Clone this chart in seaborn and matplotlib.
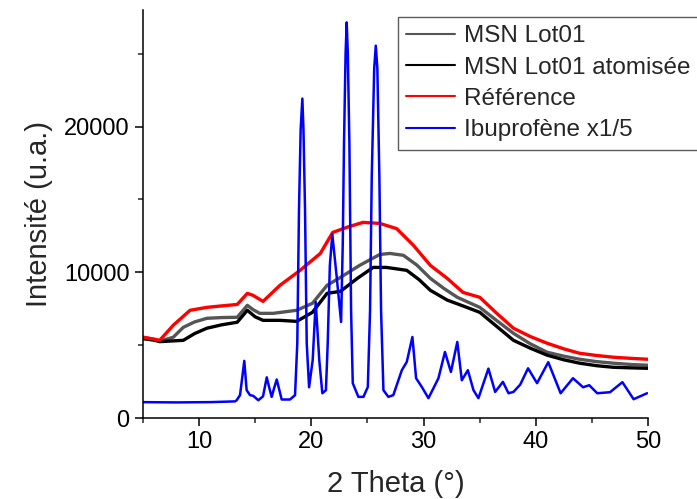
import pandas as pd
import matplotlib
matplotlib.use('Agg')
import matplotlib.pyplot as plt
import seaborn as sns
from matplotlib.ticker import MultipleLocator

# MSN Lot01 (gray)
x_lot = [5.0, 6.0, 6.5, 7.7, 8.6, 9.6, 10.7, 12.0, 13.4, 14.3, 14.8, 15.4, 16.6, 17.7,
         18.7, 20.1, 21.4, 22.6, 24.3, 26.1, 27.0, 28.2, 29.4, 30.6, 31.8, 33.0, 35.0,
         36.5, 38.0, 39.5, 41.0, 42.5, 43.9, 45.4, 46.9, 48.5, 50.0]
y_lot = [5550, 5400, 5280, 5550, 6230, 6600, 6850, 6900, 6920, 7740, 7450, 7190, 7190, 7300,
         7400, 7880, 9110, 9660, 10480, 11230, 11300, 11170, 10500, 9590, 8900, 8290, 7600,
         6700, 5820, 5100, 4520, 4250, 4040, 3880, 3770, 3680, 3630]

# MSN Lot01 atomisée (black)
x_ato = [5.0, 6.0, 6.5, 7.7, 8.6, 9.6, 10.7, 12.0, 13.4, 14.3, 15.0, 15.7, 17.2, 18.7,
         20.1, 21.4, 22.6, 24.1, 25.5, 26.7, 28.5, 29.6, 30.6, 32.1, 33.5, 35.0, 36.5,
         38.0, 39.5, 41.0, 42.5, 43.9, 45.4, 46.9, 48.5, 50.0]
y_ato = [5450, 5350, 5250, 5300, 5340, 5800, 6170, 6400, 6580, 7400, 6950, 6710, 6710, 6640,
         7260, 8560, 8700, 9590, 10340, 10340, 10140, 9500, 8770, 8100, 7700, 7260, 6300,
         5340, 4800, 4320, 4000, 3770, 3600, 3490, 3450, 3420]

# Référence (red)
x_ref = [5.0, 5.8, 6.5, 7.7, 9.2, 10.7, 12.0, 13.4, 14.3, 14.8, 15.7, 17.2, 19.0, 20.8,
         21.9, 23.2, 24.6, 26.1, 27.6, 29.1, 30.6, 32.1, 33.5, 35.0, 36.5, 38.0, 39.5,
         41.0, 42.5, 43.9, 45.4, 46.9, 48.5, 50.0]
y_ref = [5550, 5450, 5340, 6370, 7400, 7600, 7700, 7800, 8560, 8430, 8010, 9110, 10140, 11300,
         12740, 13100, 13430, 13360, 13000, 11850, 10480, 9590, 8630, 8290, 7200, 6170, 5600,
         5140, 4750, 4450, 4300, 4180, 4100, 4040]

# Ibuprofène x1/5 (blue)
x_ibu = [5.0, 8.0, 11.0, 13.2, 13.35, 13.65, 13.85, 14.03, 14.24, 14.54, 14.83, 15.28,
         15.7, 16.03, 16.25, 16.47, 16.7, 16.92, 17.36, 18.1, 18.55, 18.75, 18.9, 19.05,
         19.2, 19.3, 19.44, 19.59, 19.8, 20.12, 20.39, 20.71, 20.98, 21.3, 21.46, 21.65,
         21.87, 22.26, 22.65, 22.8, 22.91, 23.05, 23.15, 23.25, 23.39, 23.54, 23.69, 24.19,
         24.64, 25.03, 25.23, 25.38, 25.6, 25.74, 25.88, 26.06, 26.21, 26.42, 26.86, 27.3,
         28.06, 28.5, 29.0, 29.33, 29.84, 30.43, 31.32, 31.9, 32.43, 33.0, 33.4, 33.94,
         34.44, 34.88, 35.77, 36.37, 37.06, 37.56, 38.0, 38.6, 39.3, 40.1, 41.1, 42.2,
         43.3, 44.2, 44.75, 45.46, 46.6, 47.7, 48.7, 49.9]
y_ibu = [1100, 1080, 1100, 1150, 1230, 1580, 2800, 3930, 1920, 1580, 1530, 1230,
         1500, 2800, 2100, 1460, 2100, 2650, 1280, 1280, 1580, 5140, 14250, 19800,
         21920, 19800, 14250, 5140, 2120, 3970, 7970, 3970, 1710, 1920, 5140, 10500,
         12600, 9680, 6600, 12000, 18840, 25000, 27150, 25000, 18840, 7400, 2400, 1460,
         1460, 2140, 7400, 16530, 24000, 25550, 24000, 16530, 7400, 1920, 1460, 1580,
         3290, 3860, 5570, 2740, 2140, 1370, 2740, 4540, 3170, 5230, 2600, 3290,
         1920, 1370, 3400, 1800, 2490, 1710, 1800, 2300, 3420, 2400, 3840, 1710,
         2740, 2120, 2260, 1710, 1780, 2470, 1300, 1710]

labels = ['MSN Lot01', 'MSN Lot01 atomisée', 'Référence', 'Ibuprofène x1/5']
colors = ['#555555', '#000000', '#ff0000', '#0000ff']

frames = []
for lab, xs, ys in zip(labels, [x_lot, x_ato, x_ref, x_ibu], [y_lot, y_ato, y_ref, y_ibu]):
    frames.append(pd.DataFrame({'theta': xs, 'intensity': ys, 'sample': lab}))
df = pd.concat(frames, ignore_index=True)

sns.set_style('ticks')
plt.rcParams['font.family'] = ['Liberation Sans', 'DejaVu Sans']

fig = plt.figure(figsize=(6.97, 4.99), dpi=100)
ax = fig.add_axes([0.205, 0.162, 0.725, 0.818])

for lab, col in zip(labels, colors):
    sub = df[df['sample'] == lab]
    lw = 1.8 if lab == 'Ibuprofène x1/5' else 2.4
    sns.lineplot(data=sub, x='theta', y='intensity', color=col, lw=lw,
                 estimator=None, sort=False, label=lab, ax=ax, legend=False)

ax.set_xlim(5, 50)
ax.set_ylim(0, 28000)
ax.xaxis.set_major_locator(MultipleLocator(10))
ax.xaxis.set_minor_locator(MultipleLocator(5))
ax.yaxis.set_major_locator(MultipleLocator(10000))
ax.yaxis.set_minor_locator(MultipleLocator(5000))
ax.tick_params(which='major', direction='out', length=6, width=1.1, labelsize=17, colors='black')
ax.tick_params(which='minor', direction='out', length=3.5, width=1.1)
for s in ['left', 'bottom']:
    ax.spines[s].set_linewidth(1.1)
    ax.spines[s].set_color('black')
sns.despine(ax=ax)

ax.set_xlabel('2 Theta (°)', fontsize=21, labelpad=12)
ax.set_ylabel('Intensité (u.a.)', fontsize=21, labelpad=8)

handles, labs = ax.get_legend_handles_labels()
leg = fig.legend(handles, labs, loc='upper left', bbox_to_anchor=(0.571, 0.966),
                 fontsize=17.5, frameon=True, fancybox=False, handlelength=2.0,
                 handletextpad=0.35, labelspacing=0.38, borderpad=0.35, borderaxespad=0)
leg.get_frame().set_edgecolor('#333333')
leg.get_frame().set_linewidth(1.0)
for line in leg.get_lines():
    line.set_linewidth(1.5)

fig.savefig('out.png', dpi=100)
